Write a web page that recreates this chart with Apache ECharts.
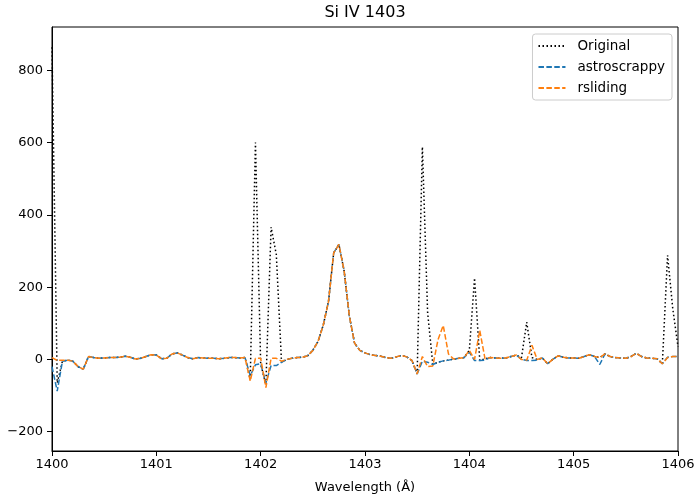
<!DOCTYPE html>
<html>
<head>
<meta charset="utf-8">
<script src="https://cdn.jsdelivr.net/npm/echarts@6/dist/echarts.min.js"></script>
<style>
  html, body { margin: 0; padding: 0; background: #fff; }
  #chart { width: 700px; height: 500px; }
</style>
</head>
<body>
<div id="chart"></div>
<script>
// wavelength grid (Å), 0.05 step
const waveStart = 1400;
const waveStep = 0.05;
const nPoints = 121;

// values, one per grid point
const original = [
  864, -65, -5, -2, -5, -20, -27, 8, 5, 3,
  4, 5, 5, 6, 9, 6, 1, 3, 8, 13,
  12, 2, 3, 15, 18, 12, 5, 2, 5, 4,
  3, 3, 2, 3, 5, 5, 4, 5, -55, 600,
  -12, -70, 366, 290, -8, 0, 3, 5, 6, 10,
  25, 50, 95, 160, 295, 318, 245, 120, 45, 25,
  18, 13, 11, 9, 5, 3, 7, 11, 7, -3,
  -40, 588, 130, -14, -8, -4, -2, 1, 3, 5,
  25, 225, -3, 2, 5, 4, 3, 4, 8, 12,
  5, 103, 5, 0, 4, -12, 0, 10, 6, 4,
  4, 3, 8, 13, 8, 5, 15, 8, 5, 4,
  3, 8, 17, 8, 4, 3, 2, -12, 288, 140,
  35
];
const astroscrappy = [
  -20, -88, -5, -2, -5, -20, -27, 8, 5, 3,
  4, 5, 5, 6, 9, 6, 1, 3, 8, 13,
  12, 2, 3, 15, 18, 12, 5, 2, 5, 4,
  3, 3, 2, 3, 5, 5, 4, 5, -45, -15,
  -12, -65, -17, -17, -8, 0, 3, 5, 6, 10,
  25, 50, 95, 160, 295, 318, 245, 120, 45, 25,
  18, 13, 11, 9, 5, 3, 7, 11, 7, -3,
  -40, -5, -8, -14, -8, -4, -2, 1, 3, 5,
  20, -3, -3, -2, 5, 4, 3, 4, 8, 12,
  0, -3, -3, -2, 4, -12, 0, 10, 6, 4,
  4, 3, 8, 13, 8, -14, 15, 8, 5, 4,
  3, 8, 17, 8, 4, 3, 2, -12, 6, 8,
  8
];
const rsliding = [
  5, -3, -2, -2, -5, -20, -27, 8, 5, 3,
  4, 5, 5, 6, 9, 6, 1, 3, 8, 13,
  12, 2, 3, 15, 18, 12, 5, 2, 5, 4,
  3, 3, 2, 3, 5, 5, 4, 5, -60, 3,
  3, -78, 3, 3, -5, 0, 3, 5, 6, 10,
  25, 50, 95, 160, 295, 318, 245, 120, 45, 25,
  18, 13, 11, 9, 5, 3, 7, 11, 7, -3,
  -40, 8, -20, -18, 55, 94, 15, 1, 3, 5,
  25, 0, 80, 2, 5, 4, 3, 4, 8, 12,
  0, -2, 39, 0, 4, -12, 0, 10, 6, 4,
  4, 3, 8, 13, 8, 5, 15, 8, 5, 4,
  3, 8, 17, 8, 4, 3, 2, -12, 5, 8,
  8
];

const yTicks = [-200, 0, 200, 400, 600, 800];

let wavelength = [];
for (let i = 0; i < nPoints; i++) {
    wavelength.push(+(waveStart + i * waveStep).toFixed(3));
}

function pairs(vals) {
    return vals.map((v, i) => [wavelength[i], v]);
}

const font = 'DejaVu Sans';
let chart = echarts.init(document.getElementById('chart'), null, { renderer: 'canvas' });

let option = {
    animation: false,
    backgroundColor: '#fff',
    title: {
        text: 'Si IV 1403',
        left: 365,
        top: 5,
        textAlign: 'center',
        padding: 0,
        textStyle: { fontFamily: font, fontSize: 16, fontWeight: 'normal', color: '#000' }
    },
    legend: {
        orient: 'vertical',
        right: 28,
        top: 34,
        align: 'left',
        padding: [5, 7, 5, 5],
        itemWidth: 27,
        itemHeight: 14,
        itemGap: 7,
        borderColor: '#cccccc',
        borderWidth: 1,
        borderRadius: 3,
        backgroundColor: 'rgba(255,255,255,0.8)',
        itemStyle: { opacity: 0 },
        textStyle: { fontFamily: font, fontSize: 13.5, color: '#000', padding: [0, 0, 0, 7] },
        data: ['Original', 'astroscrappy', 'rsliding']
    },
    grid: {
        left: 52,
        right: 22,
        top: 27,
        bottom: 49,
        show: true,
        borderColor: '#000',
        borderWidth: 1,
        backgroundColor: 'transparent'
    },
    xAxis: {
        type: 'value',
        min: 1400,
        max: 1406,
        interval: 1,
        name: 'Wavelength (Å)',
        nameLocation: 'middle',
        nameGap: 30,
        nameTextStyle: { fontFamily: font, fontSize: 13, color: '#000' },
        axisLine: { show: true, onZero: false, lineStyle: { color: '#000', width: 1 } },
        axisTick: { show: true, inside: false, length: 5, lineStyle: { color: '#000' } },
        axisLabel: {
            fontFamily: font, fontSize: 13, color: '#000', margin: 7,
            formatter: function (v) { return String(v); }
        },
        splitLine: { show: false }
    },
    yAxis: {
        type: 'value',
        min: -253.5,
        max: 920,
        axisLine: { show: true, onZero: false, lineStyle: { color: '#000', width: 1 } },
        axisTick: { show: true, inside: false, length: 5, lineStyle: { color: '#000' }, customValues: yTicks },
        axisLabel: {
            fontFamily: font, fontSize: 13, color: '#000', margin: 9,
            customValues: yTicks,
            formatter: function (v) { return v < 0 ? '\u2212' + (-v) : String(v); }
        },
        splitLine: { show: false }
    },
    series: [
        {
            name: 'Original',
            type: 'line',
            data: pairs(original),
            symbol: 'none',
            color: '#000000',
            lineStyle: { color: '#000000', width: 1.5, type: [1.5, 2.5] },
            z: 2
        },
        {
            name: 'astroscrappy',
            type: 'line',
            data: pairs(astroscrappy),
            symbol: 'none',
            color: '#1f77b4',
            lineStyle: { color: '#1f77b4', width: 1.5, type: [5.5, 2.4] },
            z: 3
        },
        {
            name: 'rsliding',
            type: 'line',
            data: pairs(rsliding),
            symbol: 'none',
            color: '#ff7f0e',
            lineStyle: { color: '#ff7f0e', width: 1.5, type: [5.5, 2.4] },
            z: 4
        }
    ]
};

chart.setOption(option);
</script>
</body>
</html>
